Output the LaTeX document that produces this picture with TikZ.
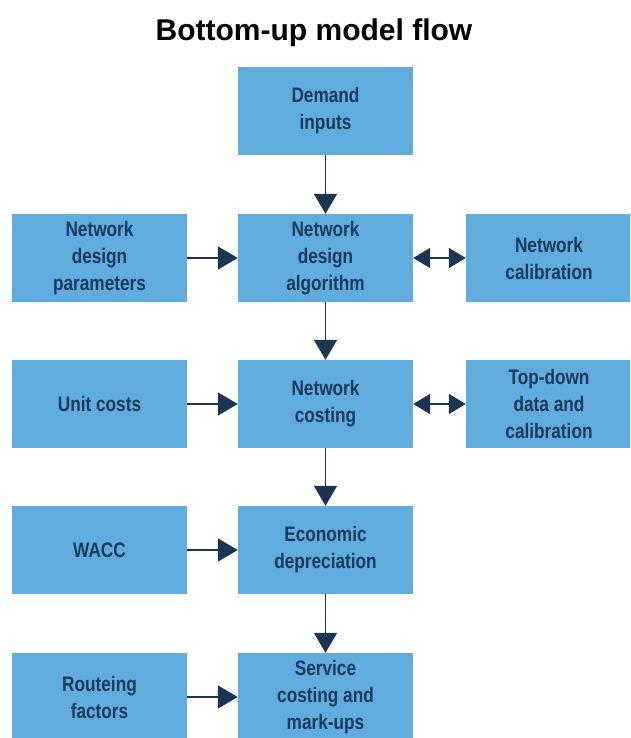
\documentclass[tikz,border=0pt]{standalone}
\usepackage{fontspec}
\setmainfont{Liberation Sans}[FakeStretch=0.82]
\newfontfamily\titlefont{Liberation Sans}
\usetikzlibrary{arrows.meta}
\definecolor{boxblue}{HTML}{61ACDE}
\definecolor{navy}{HTML}{173A5E}
\definecolor{arrowc}{HTML}{1B3553}
\tikzset{
  blk/.style={rectangle, fill=boxblue, draw=none, minimum height=88pt, inner sep=0pt,
    align=center, text=navy, font=\fontsize{21}{27}\selectfont\bfseries},
  wblk/.style={blk, minimum width=175pt},
  rblk/.style={blk, minimum width=166pt},
  flow/.style={draw=arrowc, line width=1.6pt, -{Triangle[length=20pt,width=23pt]}},
  both/.style={draw=arrowc, line width=1.6pt, {Triangle[length=17pt,width=20pt]}-{Triangle[length=17pt,width=20pt]}},
}
\begin{document}
\begin{tikzpicture}[x=1pt,y=-1pt]
\clip (0,0) rectangle (630,738);
\fill[white] (0,0) rectangle (630,738);
\node[font=\titlefont\fontsize{30}{34}\selectfont\bfseries, text=black] (title) at (314,33) {Bottom-up model flow};
\node[wblk] (demand) at (325.5,111) {Demand\\inputs};
\node[wblk] (ndp) at (99.5,258) {Network\\design\\parameters};
\node[wblk] (nda) at (325.5,258) {Network\\design\\algorithm};
\node[rblk] (ncal) at (549,258) {Network\\calibration};
\node[wblk] (unit) at (99.5,404) {Unit costs};
\node[wblk] (ncost) at (325.5,404) {Network\\costing};
\node[rblk] (topdown) at (549,404) {Top-down\\data and\\calibration};
\node[wblk] (wacc) at (99.5,550) {WACC};
\node[wblk] (econ) at (325.5,550) {Economic\\depreciation};
\node[wblk] (route) at (99.5,697) {Routeing\\factors};
\node[wblk] (serv) at (325.5,697) {Service\\costing and\\mark-ups};
\draw[flow] (demand) -- (nda);
\draw[flow] (nda) -- (ncost);
\draw[flow] (ncost) -- (econ);
\draw[flow] (econ) -- (serv);
\draw[flow] (ndp) -- (nda);
\draw[flow] (unit) -- (ncost);
\draw[flow] (wacc) -- (econ);
\draw[flow] (route) -- (serv);
\draw[both] (nda) -- (ncal);
\draw[both] (ncost) -- (topdown);
\end{tikzpicture}
\end{document}
